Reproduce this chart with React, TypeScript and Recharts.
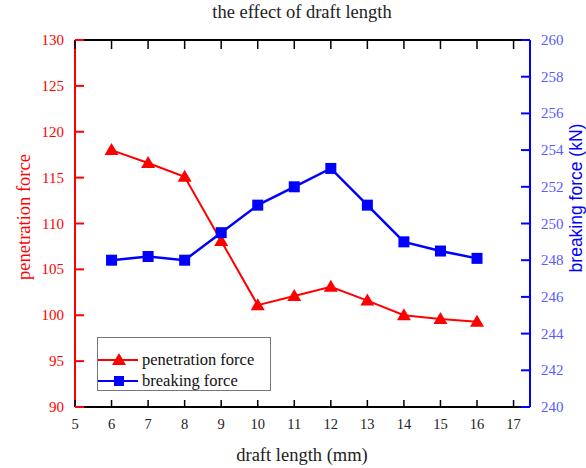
import { CartesianGrid, Legend, Line, LineChart, XAxis, YAxis } from "recharts";

const draftLength = [6, 7, 8, 9, 10, 11, 12, 13, 14, 15, 16];
const penetrationForce = [118, 116.6, 115.1, 108.1, 101.1, 102.1, 103.1, 101.6, 100, 99.6, 99.3];
const breakingForce = [248, 248.2, 248, 249.5, 251, 252, 253, 251, 249, 248.5, 248.1];

const xTicks = [5, 6, 7, 8, 9, 10, 11, 12, 13, 14, 15, 16, 17];
const leftTicks = [90, 95, 100, 105, 110, 115, 120, 125, 130];
const rightTicks = [240, 242, 244, 246, 248, 250, 252, 254, 256, 258, 260];

const data = draftLength.map((d, i) => ({
  draft: d,
  pen: penetrationForce[i],
  brk: breakingForce[i],
}));

const SERIF = "'Liberation Serif', 'Times New Roman', serif";
const SANS = "'Liberation Sans', Arial, sans-serif";
const RED = "#ff0000";
const BLUE = "#0000ff";
const M = 10; // tickMargin used by every axis

function BottomTick({ x, y, payload }: any) {
  const ay = y - M;
  return (
    <g>
      <line x1={x} y1={ay} x2={x} y2={ay - 7} stroke="#000" strokeWidth={1.5} />
      <text x={x} y={ay + 22} textAnchor="middle" fontFamily={SERIF} fontSize={14.5} fill="#222">
        {payload.value}
      </text>
    </g>
  );
}

function TopTick({ x, y }: any) {
  const ay = y + M;
  return <line x1={x} y1={ay} x2={x} y2={ay + 9} stroke="#000" strokeWidth={1.5} />;
}

function LeftTick({ x, y, payload }: any) {
  const ax = x + M;
  return (
    <g>
      <line x1={ax} y1={y} x2={ax + 9} y2={y} stroke={RED} strokeWidth={2} />
      <text x={ax - 11} y={y + 5} textAnchor="end" fontFamily={SERIF} fontSize={15} fill={RED}>
        {payload.value}
      </text>
    </g>
  );
}

function RightTick({ x, y, payload }: any) {
  const ax = x - M;
  return (
    <g>
      <line x1={ax} y1={y} x2={ax - 9} y2={y} stroke={BLUE} strokeWidth={2} />
      <text x={ax + 11} y={y + 5} textAnchor="start" fontFamily={SERIF} fontSize={15} fill="#5a5aff">
        {payload.value}
      </text>
    </g>
  );
}

function Triangle({ cx, cy }: any) {
  if (cx == null || cy == null) return null;
  return <polygon points={`${cx},${cy - 7} ${cx - 7},${cy + 5} ${cx + 7},${cy + 5}`} fill={RED} />;
}

function Square({ cx, cy }: any) {
  if (cx == null || cy == null) return null;
  return <rect x={cx - 5.5} y={cy - 5.5} width={11} height={11} fill={BLUE} />;
}

function LegendBox() {
  const row = (color: string, label: string, tri: boolean) => (
    <div style={{ display: "flex", alignItems: "center", height: 21 }}>
      <svg width={40} height={16} style={{ flex: "none" }}>
        <line x1={0} y1={8} x2={40} y2={8} stroke={color} strokeWidth={2} />
        {tri ? (
          <polygon points="21,1 14,13 28,13" fill={color} />
        ) : (
          <rect x={16} y={3} width={10} height={10} fill={color} />
        )}
      </svg>
      <span style={{ marginLeft: 4, fontFamily: SERIF, fontSize: 16.5, color: "#111", whiteSpace: "nowrap" }}>
        {label}
      </span>
    </div>
  );
  return (
    <div
      style={{
        border: "1px solid #777",
        background: "#fff",
        width: 174,
        height: 54,
        boxSizing: "border-box",
        paddingTop: 11,
      }}
    >
      {row(RED, "penetration force", true)}
      {row(BLUE, "breaking force", false)}
    </div>
  );
}

export default function App() {
  return (
    <div style={{ position: "absolute", left: 0, top: 0, width: 586, height: 468, background: "#fff" }}>
      <LineChart width={586} height={468} data={data} margin={{ top: 39, right: 0, bottom: 0, left: 0 }}>
        <CartesianGrid stroke="none" />
        <XAxis
          xAxisId="top"
          orientation="top"
          dataKey="draft"
          type="number"
          domain={[5, 17.45]}
          ticks={xTicks}
          height={1}
          tickSize={0}
          tickMargin={M}
          tick={<TopTick />}
          stroke="#000"
          strokeWidth={2}
          allowDataOverflow
          label={{
            content: () => (
              <text x={302} y={18} textAnchor="middle" fontFamily={SERIF} fontSize={18.5} fill="#222">
                the effect of draft length
              </text>
            ),
          }}
        />
        <XAxis
          xAxisId="bottom"
          dataKey="draft"
          type="number"
          domain={[5, 17.45]}
          ticks={xTicks}
          height={61}
          tickSize={0}
          tickMargin={M}
          tick={<BottomTick />}
          stroke="#000"
          strokeWidth={2}
          allowDataOverflow
          label={{
            content: () => (
              <text x={302} y={461} textAnchor="middle" fontFamily={SERIF} fontSize={18.5} fill="#222">
                draft length (mm)
              </text>
            ),
          }}
        />
        <YAxis
          yAxisId="left"
          domain={[90, 130]}
          ticks={leftTicks}
          width={75}
          tickSize={0}
          tickMargin={M}
          tick={<LeftTick />}
          stroke={RED}
          strokeWidth={2}
          allowDataOverflow
          label={{
            content: () => (
              <text
                x={30}
                y={217}
                transform="rotate(-90 30 217)"
                textAnchor="middle"
                fontFamily={SERIF}
                fontSize={18.5}
                fill={RED}
              >
                penetration force
              </text>
            ),
          }}
        />
        <YAxis
          yAxisId="right"
          orientation="right"
          domain={[240, 260]}
          ticks={rightTicks}
          width={56}
          tickSize={0}
          tickMargin={M}
          tick={<RightTick />}
          stroke={BLUE}
          strokeWidth={2}
          allowDataOverflow
          label={{
            content: () => (
              <text
                x={582}
                y={198}
                transform="rotate(-90 582 198)"
                textAnchor="middle"
                fontFamily={SANS}
                fontSize={17.5}
                fill={BLUE}
              >
                breaking force (kN)
              </text>
            ),
          }}
        />
        <Line
          xAxisId="bottom"
          yAxisId="left"
          dataKey="pen"
          name="penetration force"
          stroke={RED}
          strokeWidth={2}
          dot={<Triangle />}
          activeDot={false}
          isAnimationActive={false}
        />
        <Line
          xAxisId="bottom"
          yAxisId="right"
          dataKey="brk"
          name="breaking force"
          stroke={BLUE}
          strokeWidth={2.5}
          dot={<Square />}
          activeDot={false}
          isAnimationActive={false}
        />
        <Legend
          layout="vertical"
          align="center"
          verticalAlign="middle"
          content={() => <LegendBox />}
          wrapperStyle={{ left: 97, top: 337, width: 174, height: 54 }}
        />
      </LineChart>
    </div>
  );
}
